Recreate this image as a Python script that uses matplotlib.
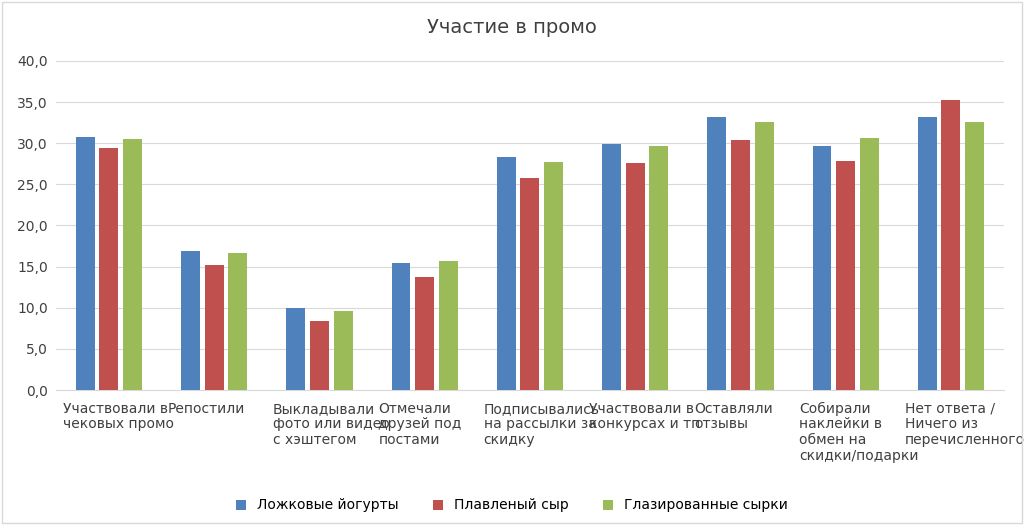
import matplotlib
matplotlib.use("Agg")
import matplotlib.pyplot as plt
import numpy as np

categories = ["Участвовали в\nчековых промо", "Репостили", "Выкладывали\nфото или видео\nс хэштегом",
              "Отмечали\nдрузей под\nпостами", "Подписывались\nна рассылки за\nскидку",
              "Участвовали в\nконкурсах и тп", "Оставляли\nотзывы", "Собирали\nнаклейки в\nобмен на\nскидки/подарки",
              "Нет ответа /\nНичего из\nперечисленного"]
series_names = ["Ложковые йогурты", "Плавленый сыр", "Глазированные сырки"]
yogurt = [30.8, 16.9, 10.0, 15.4, 28.3, 29.9, 33.2, 29.7, 33.2]
cheese = [29.4, 15.2, 8.4, 13.7, 25.8, 27.6, 30.4, 27.8, 35.3]
glazed = [30.5, 16.7, 9.6, 15.7, 27.7, 29.7, 32.6, 30.6, 32.6]
colors = ["#4F81BD", "#C0504D", "#9BBB59"]

fig = plt.figure(figsize=(10.24, 5.25), dpi=100)
ax = fig.add_axes([0.055, 0.257, 0.925, 0.627])
x = np.arange(len(categories))
w = 0.18
for i, (vals, name) in enumerate(zip([yogurt, cheese, glazed], series_names)):
    ax.bar(x + (i - 1) * 0.225, vals, w, color=colors[i], label=name, zorder=3)
ax.set_xlim(-0.5, len(categories) - 0.5)
ax.set_ylim(0, 40)
ax.set_yticks(np.arange(0, 41, 5))
ax.set_yticklabels([f"{v:.1f}".replace(".", ",") for v in np.arange(0, 41, 5)], fontsize=10, color="#404040")
ax.set_xticks([])
trans = ax.get_xaxis_transform()
for xi, lab in zip(x, categories):
    ax.text(xi - 0.44, -0.035, lab, transform=trans, ha="left", va="top", fontsize=10,
            color="#404040", linespacing=1.15)
ax.grid(axis="y", color="#D9D9D9", linewidth=0.8, zorder=0)
ax.tick_params(length=0, pad=6)
for s in ["top", "right", "left"]:
    ax.spines[s].set_visible(False)
ax.spines["bottom"].set_color("#D9D9D9")
fig.suptitle("Участие в промо", y=0.965, fontsize=14, color="#404040")
fig.legend(loc="lower center", ncol=3, frameon=False, fontsize=10, bbox_to_anchor=(0.5, 0.0),
           handlelength=0.7, handleheight=0.7, columnspacing=2.5)
fig.patches.append(plt.Rectangle((0.002, 0.003), 0.996, 0.994, transform=fig.transFigure,
                                 fill=False, edgecolor="#D9D9D9", linewidth=1))
fig.savefig("out.png", dpi=100)
